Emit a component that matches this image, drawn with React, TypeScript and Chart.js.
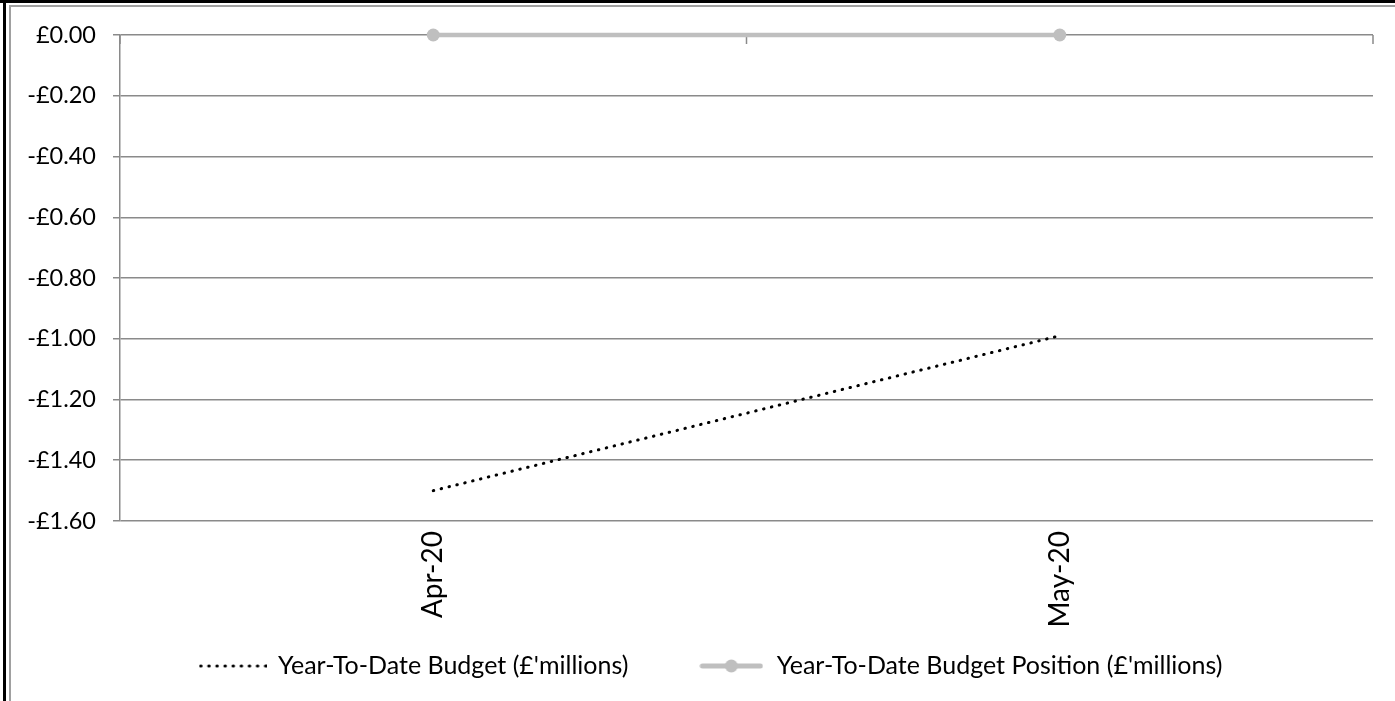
import React, { useEffect, useRef } from "react";
import { Chart, registerables } from "chart.js";

Chart.register(...registerables);

const categories = ["Apr-20", "May-20"];
const budgetValues = [-1.5, -0.99];
const budgetPositionValues = [0, 0];
const seriesNames = [
  "Year-To-Date Budget (£'millions)",
  "Year-To-Date Budget Position (£'millions)",
];
const yMin = -1.6;
const yMax = 0;
const yStep = 0.2;

const FONT = "Lato";
const GRID = "#8a8a8a";
const POSITION_COLOR = "#bfbfbf";

function formatMoney(v: number): string {
  const r = Math.round(v * 100) / 100;
  const s = "£" + Math.abs(r).toFixed(2);
  return r < 0 ? "-" + s : s;
}

function makeDottedSymbol(): HTMLCanvasElement {
  const c = document.createElement("canvas");
  c.width = 68;
  c.height = 8;
  const ctx = c.getContext("2d")!;
  ctx.strokeStyle = "#000";
  ctx.lineWidth = 3;
  ctx.lineCap = "round";
  ctx.setLineDash([0.5, 7.6]);
  ctx.beginPath();
  ctx.moveTo(2, 4);
  ctx.lineTo(68, 4);
  ctx.stroke();
  return c;
}

function makeMarkerSymbol(): HTMLCanvasElement {
  const c = document.createElement("canvas");
  c.width = 64;
  c.height = 16;
  const ctx = c.getContext("2d")!;
  ctx.strokeStyle = POSITION_COLOR;
  ctx.lineWidth = 5;
  ctx.lineCap = "round";
  ctx.beginPath();
  ctx.moveTo(3, 8);
  ctx.lineTo(61, 8);
  ctx.stroke();
  ctx.fillStyle = POSITION_COLOR;
  ctx.beginPath();
  ctx.arc(32, 8, 6.5, 0, Math.PI * 2);
  ctx.fill();
  return c;
}

const layoutPlugin = {
  id: "excelLayout",
  beforeLayout(chart: any) {
    const lg = chart.legend;
    if (lg && !lg.__patched) {
      const orig = lg.fit.bind(lg);
      lg.fit = function () {
        orig();
        this.height = 0;
      };
      lg.__patched = true;
    }
  },
  afterLayout(chart: any) {
    const lg = chart.legend;
    if (lg) {
      lg.left += 19;
      lg.right += 19;
      lg.top = chart.chartArea.bottom + 62.5;
      lg.bottom = lg.top + 110;
    }
  },
  beforeDatasetsDraw(chart: any) {
    const x = chart.scales.x;
    const y = chart.scales.y;
    const ctx = chart.ctx;
    const y0 = y.getPixelForValue(0);
    const n = categories.length;
    ctx.save();
    ctx.strokeStyle = GRID;
    ctx.lineWidth = 1.5;
    for (let i = 0; i <= n; i++) {
      const px = x.left + (i * (x.right - x.left)) / n;
      ctx.beginPath();
      ctx.moveTo(px, y0);
      ctx.lineTo(px, y0 + 9);
      ctx.stroke();
    }
    ctx.restore();
  },
};

export default function App() {
  const canvasRef = useRef<HTMLCanvasElement | null>(null);

  useEffect(() => {
    const symbols = [makeDottedSymbol(), makeMarkerSymbol()];
    const chart = new Chart(canvasRef.current!, {
      type: "line",
      data: {
        labels: categories,
        datasets: [
          {
            label: seriesNames[0],
            data: budgetValues,
            borderColor: "#000",
            backgroundColor: "#000",
            borderWidth: 3,
            borderDash: [0.5, 7.6],
            borderCapStyle: "round",
            pointRadius: 0,
            pointHoverRadius: 0,
            fill: false,
            tension: 0,
            clip: false,
          },
          {
            label: seriesNames[1],
            data: budgetPositionValues,
            borderColor: POSITION_COLOR,
            backgroundColor: POSITION_COLOR,
            borderWidth: 4.5,
            pointRadius: 6.5,
            pointBorderWidth: 0,
            pointBackgroundColor: POSITION_COLOR,
            pointStyle: "circle",
            fill: false,
            tension: 0,
            clip: false,
          },
        ],
      },
      options: {
        animation: false,
        responsive: false,
        maintainAspectRatio: false,
        layout: { padding: { top: 27, right: 22, bottom: 74, left: 0 } },
        plugins: {
          tooltip: { enabled: false },
          title: { display: false },
          legend: {
            display: true,
            position: "bottom",
            labels: {
              usePointStyle: true,
              pointStyleWidth: 66,
              padding: 70,
              color: "#000",
              font: { family: FONT, size: 25 },
              generateLabels: () =>
                seriesNames.map((name, i) => ({
                  text: name,
                  pointStyle: symbols[i],
                  fillStyle: "transparent",
                  strokeStyle: "transparent",
                  lineWidth: 0,
                  hidden: false,
                  datasetIndex: i,
                  fontColor: "#000",
                })),
            },
          },
        },
        scales: {
          x: {
            type: "category",
            offset: true,
            grid: { display: false, drawTicks: false },
            border: { display: false },
            ticks: {
              color: "#000",
              font: { family: FONT, size: 28 },
              minRotation: 90,
              maxRotation: 90,
              padding: 10,
              autoSkip: false,
            },
            afterFit: (s: any) => {
              s.height = 106;
            },
          },
          y: {
            min: yMin,
            max: yMax,
            grid: { color: GRID, lineWidth: 1.5, tickLength: 7, drawTicks: true },
            border: { display: true, color: GRID, width: 1.5 },
            ticks: {
              stepSize: yStep,
              color: "#000",
              padding: 17,
              font: { family: FONT, size: 23.5 },
              callback: (v: any) => formatMoney(Number(v)),
            },
            afterFit: (s: any) => {
              s.width = 109;
              s.paddingTop = 0;
              s.paddingBottom = 0;
            },
          },
        },
      },
      plugins: [layoutPlugin],
    });
    return () => chart.destroy();
  }, []);

  return (
    <div
      style={{
        position: "fixed",
        left: 0,
        top: 0,
        width: 1395,
        height: 701,
        background: "#fff",
        overflow: "hidden",
      }}
    >
      <div style={{ position: "absolute", left: 0, top: 0, width: 1395, height: 3, background: "#000" }} />
      <div style={{ position: "absolute", left: 3, top: 0, width: 3, height: 701, background: "#000" }} />
      <div style={{ position: "absolute", left: 9, top: 5, width: 2, height: 696, background: "#a0a0a0" }} />
      <div style={{ position: "absolute", left: 9, top: 5, width: 1386, height: 2, background: "#a0a0a0" }} />
      <canvas
        ref={canvasRef}
        width={1384}
        height={693}
        style={{ position: "absolute", left: 11, top: 8, width: 1384, height: 693 }}
      />
    </div>
  );
}
